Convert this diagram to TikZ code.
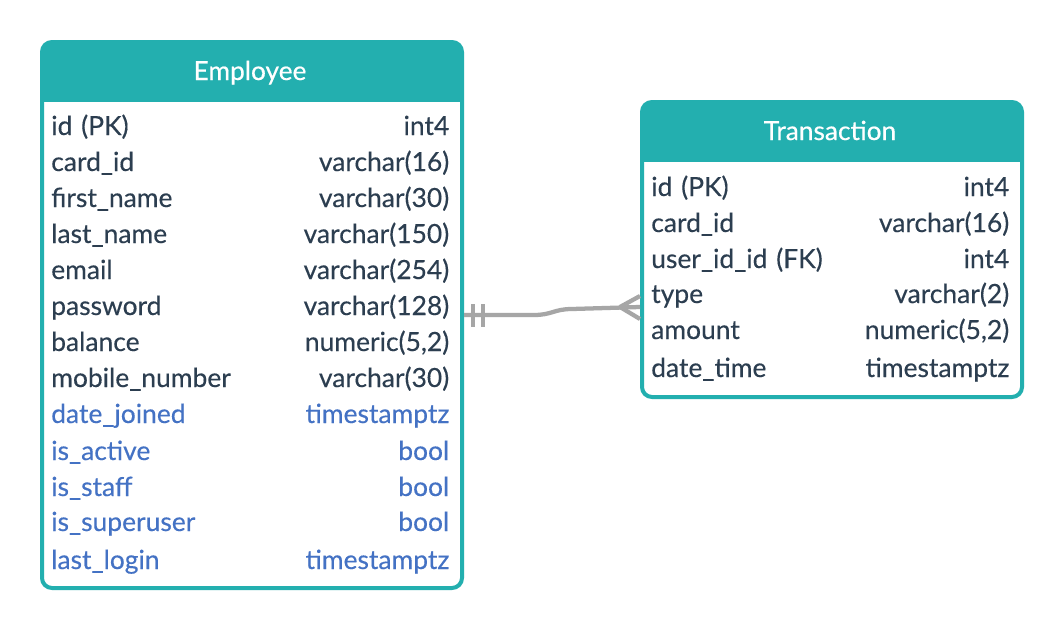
\documentclass[tikz,border=0pt]{standalone}
\usepackage{fontspec}
\setmainfont{Lato}
\definecolor{tealhead}{RGB}{35,175,175}
\definecolor{fieldtext}{RGB}{44,62,80}
\definecolor{djangotext}{RGB}{68,114,196}
\definecolor{linkgray}{RGB}{166,166,166}
\tikzset{
  tablebox/.style={draw=tealhead, fill=white, line width=3pt, rounded corners=7.5pt,
    inner sep=0pt, anchor=north west,
    path picture={\fill[tealhead, sharp corners] (path picture bounding box.north west)
      rectangle ([yshift=-45pt]path picture bounding box.north east);}},
  headtext/.style={text=white, anchor=base, inner sep=0pt,
    font=\fontsize{19.7}{23}\selectfont\addfontfeature{FakeBold=0.5}},
  field/.style={text=fieldtext, anchor=base west, inner sep=0pt, align=left,
    font=\fontsize{19.8}{23}\selectfont\addfontfeature{FakeBold=0.3}, text width=#1},
  field/.default=298.5pt,
  djfield/.style={field=#1, text=djangotext},
  djfield/.default=298.5pt,
  link/.style={draw=linkgray, line width=3.2pt}
}
\begin{document}
\begin{tikzpicture}[x=0.75pt, y=-0.75pt]
  \useasboundingbox[fill=white] (0,0) rectangle (1060,628);
  % Employee table
  \node[tablebox, minimum width=315pt, minimum height=409.5pt] (emp) at (40,40) {};
  \node[headtext] (empname) at (250,80) {Employee};
  \node[field] (e1) at (51,135) {id (PK)\hfill int4};
  \node[field] (e2) at (51,171) {card\_id\hfill varchar(16)};
  \node[field] (e3) at (51,207) {first\_name\hfill varchar(30)};
  \node[field] (e4) at (51,243) {last\_name\hfill varchar(150)};
  \node[field] (e5) at (51,279) {email\hfill varchar(254)};
  \node[field] (e6) at (51,315) {password\hfill varchar(128)};
  \node[field] (e7) at (51,351) {balance\hfill numeric(5,2)};
  \node[field] (e8) at (51,387) {mobile\_number\hfill varchar(30)};
  \node[djfield] (e9) at (51,423) {date\_joined\hfill timestamptz};
  \node[djfield] (e10) at (51,460) {is\_active\hfill bool};
  \node[djfield] (e11) at (51,496) {is\_staff\hfill bool};
  \node[djfield] (e12) at (51,531) {is\_superuser\hfill bool};
  \node[djfield] (e13) at (51,569) {last\_login\hfill timestamptz};
  % Transaction table
  \node[tablebox, minimum width=285pt, minimum height=221.25pt] (trans) at (640,100) {};
  \node[headtext] (transname) at (830,140) {Transaction};
  \node[field=268.5pt] (t1) at (651,196) {id (PK)\hfill int4};
  \node[field=268.5pt] (t2) at (651,232) {card\_id\hfill varchar(16)};
  \node[field=268.5pt] (t3) at (651,268) {user\_id\_id (FK)\hfill int4};
  \node[field=268.5pt] (t4) at (651,303) {type\hfill varchar(2)};
  \node[field=268.5pt] (t5) at (651,339) {amount\hfill numeric(5,2)};
  \node[field=268.5pt] (t6) at (651,377) {date\_time\hfill timestamptz};
  % one employee -- many transactions
  \coordinate (tin) at (trans.west |- 0,307);
  \draw[link] (emp.east) -- ++(70,0) .. controls +(18,0) and +(-18,0) .. ++(38,-6) -- (tin);
  \draw[link] ([shift={(9,-11)}]emp.east) -- +(0,23);
  \draw[link] ([shift={(19,-11)}]emp.east) -- +(0,23);
  \draw[link] ([shift={(-20,0)}]tin) -- ([shift={(0,-11)}]tin);
  \draw[link] ([shift={(-20,0)}]tin) -- ([shift={(0,12)}]tin);
\end{tikzpicture}
\end{document}
